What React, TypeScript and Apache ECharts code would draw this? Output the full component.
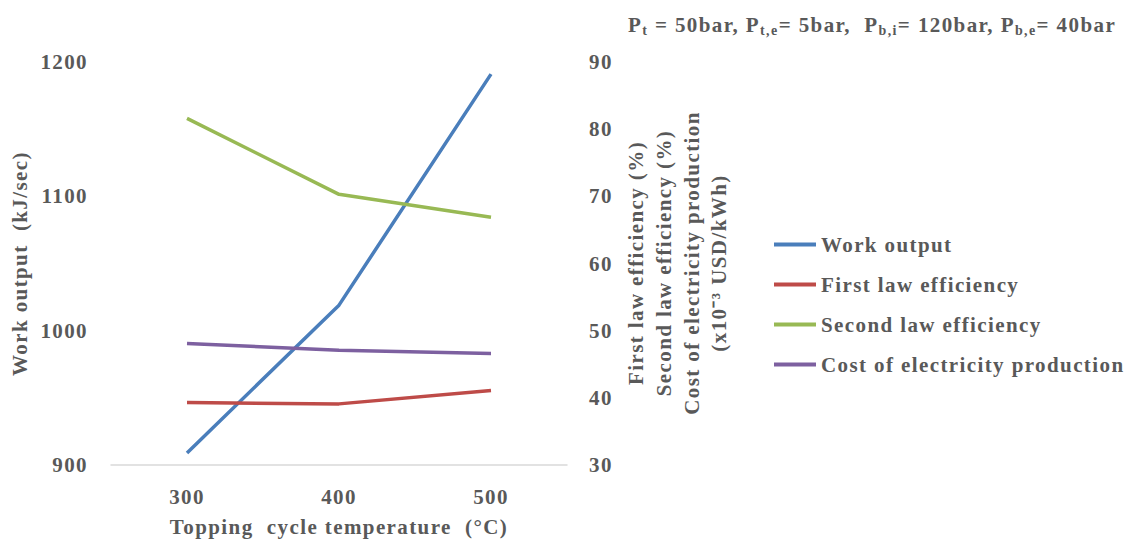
import React, { useEffect, useRef } from "react";
import * as echarts from "echarts";

const temperatures = ["300", "400", "500"];
const workOutput = [909, 1019, 1191];
const firstLawEff = [39.3, 39.1, 41.1];
const secondLawEff = [81.6, 70.3, 66.9];
const costElectricity = [48.1, 47.1, 46.6];

const seriesNames = [
  "Work output",
  "First law efficiency",
  "Second law efficiency",
  "Cost of electricity production",
];
const rightTitleLines = [
  "First law efficiency (%)",
  "Second law efficiency (%)",
  "Cost of electricity production",
  "(x10⁻³ USD/kWh)",
];
// header: [text, isSubscript]
const headerParts: [string, boolean][] = [
  ["P", false],
  ["t", true],
  [" = 50bar, P", false],
  ["t,e", true],
  ["= 5bar,  P", false],
  ["b,i", true],
  ["= 120bar, P", false],
  ["b,e", true],
  ["= 40bar", false],
];

const FONT = "'Liberation Serif', 'Times New Roman', serif";
const GRAY = "#595959";
const colors = ["#4A7EBB", "#BE4B48", "#98B954", "#7D60A0"];
const SPACING = 1.4;

function measure(text: string, size: number): number {
  const c = document.createElement("canvas").getContext("2d");
  if (!c) return text.length * size * 0.5;
  c.font = `bold ${size}px ${FONT}`;
  return c.measureText(text).width + text.length * SPACING;
}

export default function App() {
  const ref = useRef<HTMLDivElement>(null);
  useEffect(() => {
    if (!ref.current) return;
    const chart = echarts.init(ref.current, null, { renderer: "svg" });
    const lbl = { fontFamily: FONT, fontWeight: "bold", fontSize: 21, color: GRAY };
    const rightTitleX = [636, 664, 692, 719];

    let hx = 628;
    const header = headerParts.map(([t, sub]) => {
      const size = sub ? 14 : 21;
      const el = {
        type: "text",
        x: hx,
        y: sub ? 37 : 35,
        style: {
          text: t,
          fontFamily: FONT,
          fontWeight: "bold",
          fontSize: size,
          fill: GRAY,
          align: "left",
          verticalAlign: "bottom",
        },
      };
      hx += measure(t, size);
      return el;
    });

    chart.setOption({
      animation: false,
      backgroundColor: "#ffffff",
      grid: { left: 111, right: 567, top: 62, bottom: 80 },
      legend: {
        orient: "vertical",
        left: 769,
        top: 229,
        itemWidth: 42,
        itemHeight: 4,
        itemGap: 19,
        icon: "rect",
        textStyle: { ...lbl },
        data: seriesNames,
      },
      xAxis: {
        type: "category",
        data: temperatures,
        axisLine: { lineStyle: { color: "#d9d9d9", width: 1.5 } },
        axisTick: { show: false },
        axisLabel: { ...lbl, margin: 21 },
        name: "Topping  cycle temperature  (°C)",
        nameLocation: "middle",
        nameGap: 51,
        nameTextStyle: { ...lbl },
      },
      yAxis: [
        {
          type: "value",
          min: 900,
          max: 1200,
          interval: 100,
          splitLine: { show: false },
          axisLine: { show: false },
          axisTick: { show: false },
          axisLabel: { ...lbl, margin: 23, formatter: (v: number) => String(v) },
          name: "Work output  (kJ/sec)",
          nameLocation: "middle",
          nameGap: 81,
          nameTextStyle: { ...lbl },
        },
        {
          type: "value",
          min: 30,
          max: 90,
          interval: 10,
          position: "right",
          splitLine: { show: false },
          axisLine: { show: false },
          axisTick: { show: false },
          axisLabel: { ...lbl, margin: 22, formatter: (v: number) => String(v) },
        },
      ],
      series: [
        { name: seriesNames[0], type: "line", data: workOutput, yAxisIndex: 0 },
        { name: seriesNames[1], type: "line", data: firstLawEff, yAxisIndex: 1 },
        { name: seriesNames[2], type: "line", data: secondLawEff, yAxisIndex: 1 },
        { name: seriesNames[3], type: "line", data: costElectricity, yAxisIndex: 1 },
      ].map((s, i) => ({
        ...s,
        symbol: "none",
        color: colors[i],
        lineStyle: { width: 3.5, color: colors[i] },
      })),
      graphic: [
        ...rightTitleLines.map((t, i) => ({
          type: "text",
          x: rightTitleX[i],
          y: 263,
          rotation: Math.PI / 2,
          style: {
            text: t,
            fontFamily: FONT,
            fontWeight: "bold",
            fontSize: 21,
            fill: GRAY,
            align: "center",
            verticalAlign: "middle",
          },
        })),
        ...header,
      ],
    });
    return () => chart.dispose();
  }, []);
  return (
    <>
      <style>{`body { margin: 0; } svg text { letter-spacing: ${SPACING}px; }`}</style>
      <div ref={ref} style={{ width: 1134, height: 545 }} />
    </>
  );
}
